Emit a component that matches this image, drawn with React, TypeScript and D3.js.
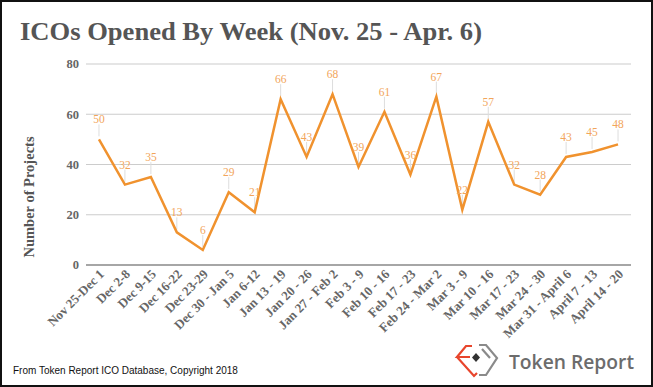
import React from 'react'
import * as d3 from 'd3'

const weeks = [
  'Nov 25-Dec 1', 'Dec 2-8', 'Dec 9-15', 'Dec 16-22', 'Dec 23-29', 'Dec 30 - Jan 5',
  'Jan 6-12', 'Jan 13 - 19', 'Jan 20 - 26', 'Jan 27 - Feb 2', 'Feb 3 - 9', 'Feb 10 - 16',
  'Feb 17 - 23', 'Feb 24 - Mar 2', 'Mar 3 - 9', 'Mar 10 - 16', 'Mar 17 - 23', 'Mar 24 - 30',
  'Mar 31 - April 6', 'April 7 - 13', 'April 14 - 20'
]
const projects = [50, 32, 35, 13, 6, 29, 21, 66, 43, 68, 39, 61, 36, 67, 22, 57, 32, 28, 43, 45, 48]
const yTicks = [0, 20, 40, 60, 80]

const W = 653
const H = 387
const serif = '"Liberation Serif", "DejaVu Serif", serif'

export default function App() {
  // plot area
  const x = d3.scalePoint<string>().domain(weeks).range([86, 631]).padding(0.5)
  const y = d3.scaleLinear().domain([0, 80]).range([265, 64])

  const line = d3.line<number>()
    .x((_, i) => x(weeks[i]) as number)
    .y(d => y(d))

  return (
    <div style={{ position: 'fixed', left: 0, top: 0 }}>
      <svg width={W} height={H} style={{ display: 'block', background: '#fff' }}>
        <rect x={1} y={1} width={W - 2} height={H - 2} fill="#fff" stroke="#111" strokeWidth={2} />

        <text x={20} y={40} fontFamily={serif} fontWeight="bold" fontSize={26} fill="#555"
          textLength={462} lengthAdjust="spacingAndGlyphs">
          ICOs Opened By Week (Nov. 25 - Apr. 6)
        </text>

        {/* gridlines + y ticks */}
        {yTicks.map(t => (
          <g key={t}>
            <line x1={86} x2={631} y1={y(t)} y2={y(t)}
              stroke={t === 0 ? '#888' : '#ccc'} strokeWidth={t === 0 ? 1.5 : 1.2} />
            <text x={79} y={y(t)} dy="0.35em" textAnchor="end" fontFamily={serif}
              fontWeight="bold" fontSize={12.5} fill="#666">{t}</text>
          </g>
        ))}

        <text transform="translate(34,197) rotate(-90)" textAnchor="middle" fontFamily={serif}
          fontWeight="bold" fontSize={14.5} fill="#555">Number of Projects</text>

        {/* x labels */}
        {weeks.map(w => (
          <text key={w} transform={`translate(${(x(w) as number) + 6},275) rotate(-45)`}
            textAnchor="end" fontFamily={serif} fontWeight="bold" fontSize={13} fill="#666">{w}</text>
        ))}

        {/* leader lines */}
        {projects.map((d, i) => (
          <line key={i} x1={x(weeks[i])} x2={x(weeks[i])} y1={y(d) - 3} y2={y(d) - 15}
            stroke="#ddd" strokeWidth={1} />
        ))}

        <path d={line(projects) || ''} fill="none" stroke="#f0922e" strokeWidth={2.5}
          strokeLinejoin="miter" />

        {projects.map((d, i) => (
          <text key={i} x={x(weeks[i])} y={y(d) - 16} textAnchor="middle" fontFamily={serif}
            fontSize={11.5} fill="#f2a55a">{d}</text>
        ))}

        <text x={13} y={374} fontFamily='"Liberation Sans", Arial, sans-serif' fontSize={10} fill="#111">
          From Token Report ICO Database, Copyright 2018
        </text>

        {/* logo */}
        <g fill="none" strokeWidth={2.2} strokeLinejoin="miter">
          <path d="M472,346 L466,346 L457,357 L470,357 M457,357 L474,376 L477,373" stroke="#e8452c" />
          <path d="M479,345 L486,345 L497,358 L486,375 L479,375 M482,349 L490,358" stroke="#8a8a8a" />
        </g>
        <path d="M476,353 L480,357.5 L476,362 L472,357.5 Z" fill="#333" />
        <text x={509} y={369} fontFamily='"Open Sans", Lato, sans-serif' fontWeight={600}
          fontSize={19.5} fill="#6c6c6c" textLength={125} lengthAdjust="spacingAndGlyphs">Token Report</text>
      </svg>
    </div>
  )
}
